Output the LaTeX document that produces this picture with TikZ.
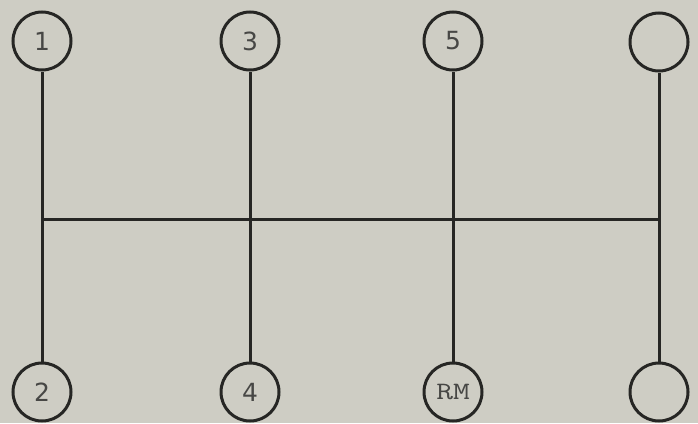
\documentclass[tikz,border=0pt]{standalone}
\usepackage{fontspec}
\setsansfont{DejaVu Sans}
\definecolor{paper}{RGB}{206,205,196}
\definecolor{ink}{RGB}{38,38,36}
\begin{document}
\begin{tikzpicture}[x=1pt,y=-1pt,line width=3pt,
  gear/.style={circle,draw=ink,minimum size=58pt,inner sep=0pt,text=ink!85,font=\sffamily\fontsize{25}{25}\selectfont}]
\fill[paper] (0,0) rectangle (698,423); \useasboundingbox (0,0) rectangle (698,423);
\node[gear] (g1) at (42,41) {1}; \node[gear] (g3) at (250,41) {3};
\node[gear] (g5) at (453,41) {5}; \node[gear] (gt) at (659,42) {};
\node[gear] (g2) at (42,392) {2}; \node[gear] (g4) at (250,392) {4};
\node[gear,font=\ttfamily\fontsize{25}{25}\selectfont] (gr) at (453,392) {\scalebox{1.3}[1]{RM}}; \node[gear] (gb) at (659,392) {};
\coordinate (hl) at (42,219); \coordinate (hr) at (659,219);
\draw[ink] (g1)--(g2); \draw[ink] (g3)--(g4); \draw[ink] (g5)--(gr); \draw[ink] (gt)--(gb);
\draw[ink] (hl)--(hr);
\end{tikzpicture}
\end{document}
